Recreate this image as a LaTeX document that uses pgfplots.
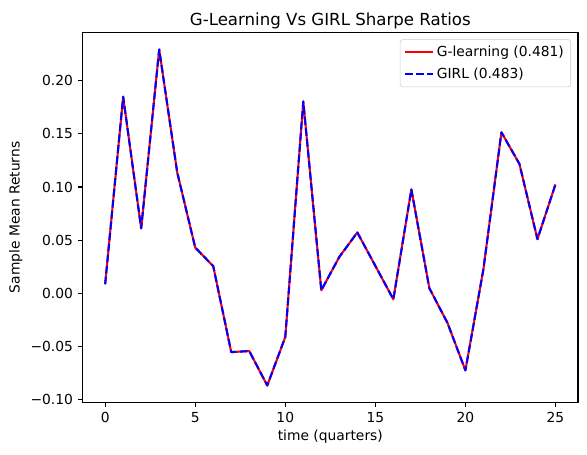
\documentclass[border=0pt]{standalone}
\usepackage{fontspec}
\setmainfont{DejaVu Sans}
\usepackage{pgfplots}
\pgfplotsset{compat=1.18}

\pgfplotstableread{
t ret
0 0.0085
1 0.1850
2 0.0610
3 0.2295
4 0.1138
5 0.0430
6 0.0255
7 -0.0554
8 -0.0544
9 -0.0868
10 -0.0412
11 0.1805
12 0.0028
13 0.0342
14 0.0572
15 0.0258
16 -0.0057
17 0.0977
18 0.0047
19 -0.0277
20 -0.0726
21 0.0226
22 0.1515
23 0.1217
24 0.0509
25 0.1025
}\glearn

\begin{document}
\begin{tikzpicture}
\begin{axis}[
  name=ax,
  scale only axis,
  width=356.6bp, height=266.1bp,
  xmin=-1.25, xmax=26.25,
  ymin=-0.1026, ymax=0.2453,
  xtick={0,5,...,25},
  ytick={-0.10,-0.05,0,0.05,0.10,0.15,0.20},
  yticklabels={−0.10,−0.05,0.00,0.05,0.10,0.15,0.20},
  /pgf/number format/assume math mode=true,
  tick align=outside,
  major tick length=3.5pt,
  tick style={black, line width=0.8pt},
  axis line style={line width=0.8pt},
  xtick pos=bottom, ytick pos=left,
  ticklabel style={font=\fontsize{10}{12}\selectfont},
  xlabel={time (quarters)},
  ylabel={Sample Mean Returns},
  label style={font=\fontsize{10}{12}\selectfont},
  xlabel style={at={(axis description cs:0.5,-0.094)}, anchor=center},
  ylabel style={at={(axis description cs:-0.135,0.5)}, anchor=center},
  legend style={at={(axis description cs:0.986,0.982)}, anchor=north east,
    draw=black!20, rounded corners=2pt, fill=white,
    font=\fontsize{10}{12}\selectfont, inner xsep=3pt, inner ysep=2.5pt,
    row sep=3pt, cells={anchor=west}},
  legend image code/.code={\draw[#1] (0pt,0pt) -- (20pt,0pt);},
]
\addplot[red, line width=1.5pt, line join=round] table[x=t, y=ret] {\glearn};
\addlegendentry{G-learning (0.481)}
\addplot[blue, line width=1.5pt, line join=round, dash pattern=on 5.55pt off 2.4pt] table[x=t, y=ret] {\glearn};
\addlegendentry{GIRL (0.483)}
\end{axis}
% title
\node[font=\fontsize{12}{14}\selectfont, anchor=base, inner sep=0pt]
  at ([yshift=4.8bp]ax.north) {G-Learning Vs GIRL Sharpe Ratios};
\pgfresetboundingbox
\path[use as bounding box] ([xshift=-59.5bp,yshift=-37.9bp]ax.south west) rectangle ([xshift=6.5bp,yshift=23.5bp]ax.north east);
\end{tikzpicture}
\end{document}
